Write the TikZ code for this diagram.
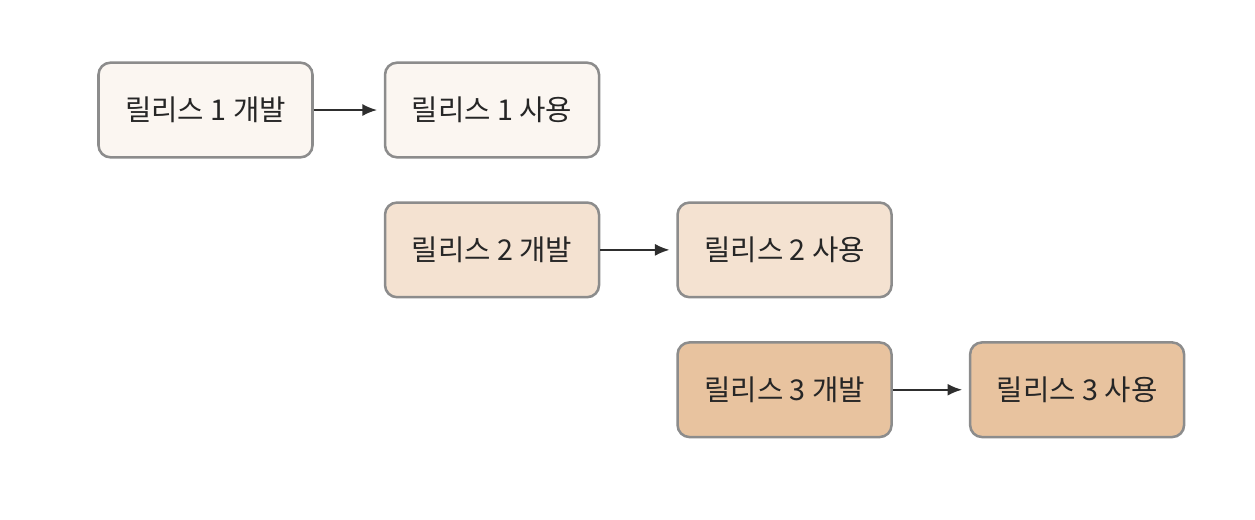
\documentclass[tikz,border=0pt]{standalone}
\usepackage{fontspec}
\newfontfamily\krfont{Noto Sans CJK KR}
\usetikzlibrary{positioning,arrows.meta}
\definecolor{relStroke}{HTML}{8C8C8C}
\definecolor{relOneFill}{HTML}{FBF6F1}
\definecolor{relTwoFill}{HTML}{F4E2D1}
\definecolor{relThreeFill}{HTML}{E8C39F}
\definecolor{arrStroke}{HTML}{2E2E2E}

\begin{document}
\begin{tikzpicture}[
  x=0.75pt, y=-0.75pt,
  font=\krfont\fontsize{21.5}{26}\selectfont,
  node distance=32pt and 57pt,
  rel/.style  ={draw=relStroke, line width=1.9pt, rounded corners=9pt, minimum width=160.5pt, minimum height=71pt, align=center, inner sep=2pt, text=black!85},
  rone/.style ={rel, fill=relOneFill},
  rtwo/.style ={rel, fill=relTwoFill},
  rthree/.style={rel, fill=relThreeFill},
  arr/.style  ={-{Latex[length=11pt, width=9pt]}, line width=1.5pt, arrStroke, shorten >=5pt},
]
\useasboundingbox (0,0) rectangle (1255,519);

% ============ Release 1 ============
\node[rone] (d1) at (205.5,110) {릴리스 1 개발};
\node[rone, right=52.5pt of d1] (u1) {릴리스 1 사용};

% ============ Release 2 ============
\node[rtwo, below=of u1] (d2)   {릴리스 2 개발};
\node[rtwo, right=of d2] (u2)   {릴리스 2 사용};

% ============ Release 3 ============
\node[rthree, below=of u2] (d3) {릴리스 3 개발};
\node[rthree, right=of d3] (u3) {릴리스 3 사용};

\foreach \a/\b in {d1/u1, d2/u2, d3/u3} {
  \draw[arr] (\a) -- (\b);
}

\end{tikzpicture}
\end{document}
